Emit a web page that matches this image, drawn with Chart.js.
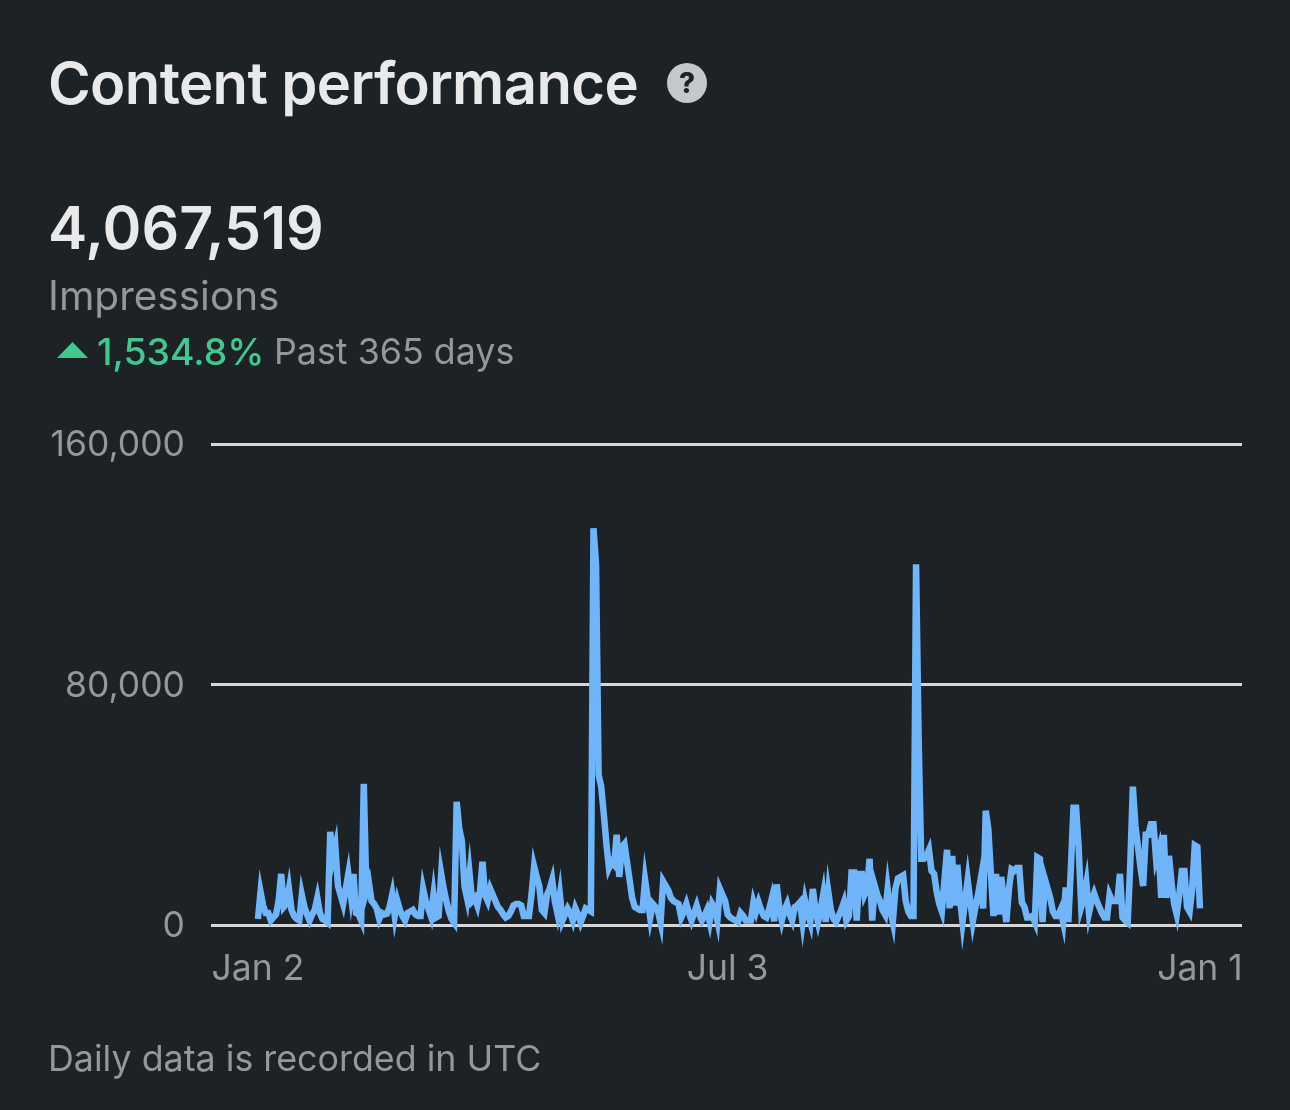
<!DOCTYPE html>
<html><head><meta charset="utf-8">
<script src="https://cdn.jsdelivr.net/npm/chart.js@4"></script>
<style>
html,body{margin:0;padding:0;background:#1d2226;width:1290px;height:1110px;overflow:hidden;font-family:Inter,sans-serif}
.t{position:absolute;white-space:nowrap;line-height:1}
canvas{position:absolute;left:0;top:0}
</style></head><body>
<canvas id="c" width="1290" height="1110"></canvas>
<div class="t" style="left:48px;top:54px;font-size:58px;font-weight:600;color:#e9e9ea;letter-spacing:-.63px">Content performance</div>
<div class="t" style="left:667px;top:63px;width:40px;height:40px;border-radius:50%;background:#c6c7c9;color:#1d2226;font-size:28px;font-weight:800;text-align:center;line-height:40px">?</div>
<div class="t" style="left:48px;top:198px;font-size:59px;font-weight:600;color:#e9e9ea">4,067,519</div>
<div class="t" style="left:48px;top:276px;font-size:40.5px;color:#94989c">Impressions</div>
<svg style="position:absolute;left:57px;top:342px" width="31" height="16"><polygon points="15.5,0 31,16 0,16" fill="#3fc98f"/></svg>
<div class="t" style="left:97px;top:333px;font-size:37.4px;font-weight:500;color:#3fc98f">1,534.8%</div>
<div class="t" style="left:274px;top:334px;font-size:35.8px;color:#94989c">Past 365 days</div>
<div class="t" style="left:48px;top:1041px;font-size:35.8px;color:#94989c">Daily data is recorded in UTC</div>
<script>
const dayIndex=Array.from({length:366},(_,i)=>i);
const impressions=[
2000,11000,6500,4000,4000,1500,2500,3500,8000,17000,
6000,7000,12000,5000,3000,2000,1500,10000,6000,3500,
1500,3500,5000,9000,4000,2000,1500,800,31000,22000,
26000,13000,10000,7000,12000,17000,10000,17000,4000,3500,
1500,47000,11000,14000,8000,7000,5500,2000,4000,3500,
3800,6000,10000,3000,8000,5000,3000,1500,4000,4500,
5000,3500,3000,3000,12000,8000,5500,3000,10000,2500,
3000,17000,12000,8000,4500,2000,800,41000,32000,28000,
13000,9000,17000,8000,9000,6500,11000,21000,10000,8000,
12000,10000,8000,6000,5000,3500,2500,3000,4500,6500,
7000,7000,6500,3000,3000,3000,10000,19500,16000,13000,
5000,4000,10000,12000,15000,8000,4000,10000,1500,3500,
5500,4000,1500,5500,3500,800,3000,5500,5000,4500,
132000,120000,50000,46000,37000,27000,19000,21000,20000,30000,
16000,26000,27000,21000,15000,9000,6000,5500,5000,5000,
15000,9000,2500,7000,6000,4500,800,14500,13000,11500,
9000,8000,7500,7000,2500,4500,7000,4000,1500,4000,
6500,3500,1500,3000,5000,1200,7000,5500,1500,12000,
10000,8000,3500,2500,2000,1500,1000,4000,3000,1500,
1500,1500,7500,4500,7500,5000,3000,2500,5000,8500,
1200,13500,6000,1500,5000,7000,3500,1500,6000,6500,
7500,1000,8000,4000,1000,12000,5000,1000,5000,10000,
1000,11000,5000,2000,1000,3000,5000,7500,1500,3000,
17500,17500,1500,17000,17000,10000,12000,22000,1500,13000,
10000,8000,5000,3500,12000,5000,1000,12000,15500,16000,
16500,8000,4500,3000,3000,120000,62000,22000,22000,23000,
25000,18000,17000,11000,7000,4500,15000,25000,5500,23000,
6500,20000,9000,1000,8000,15000,8000,1200,6000,10000,
15000,5500,38000,32000,17000,3000,17000,3500,16000,8000,
1000,12000,18500,18000,19000,19000,7500,6000,2500,2500,
3000,1000,22500,22000,1000,15000,12000,9000,4500,3000,
3000,5000,1000,12500,1000,19000,39000,39000,26000,6000,
9000,14000,4000,8000,10500,8000,6000,4000,2500,2500,
10000,8000,8000,8000,17000,2500,1500,800,20000,46000,
33000,26000,19000,13000,30000,30000,33500,33500,22000,25000,
9000,30000,9000,23000,14000,7000,3500,10000,18000,18000,
6000,4500,12000,26500,26000,5500];
const yTicks=[0,80000,160000];
const xTickDays=[0,182,365];
const xTickLabels=['Jan 2','Jul 3','Jan 1'];
const font={family:'Inter',size:35.5};
new Chart(document.getElementById('c'),{
 type:'line',
 data:{datasets:[{data:dayIndex.map((d,i)=>({x:d,y:impressions[i]})),borderColor:'#70b5f9',borderWidth:6.5,
   borderJoinStyle:'miter',borderCapStyle:'butt',pointRadius:0,tension:0,fill:false,clip:false}]},
 options:{responsive:false,animation:false,events:[],
  layout:{padding:{left:0,right:48,top:444,bottom:105}},
  plugins:{legend:{display:false},tooltip:{enabled:false},title:{display:false}},
  scales:{
   x:{type:'linear',min:-18.2,max:381.3,
    afterBuildTicks:a=>{a.ticks=xTickDays.map(v=>({value:v}))},
    afterFit:s=>{s.height=80},
    grid:{display:false},border:{display:false},
    ticks:{color:'#94989c',font,padding:15,maxRotation:0,autoSkip:false,
      callback:v=>xTickLabels[xTickDays.indexOf(v)]}},
   y:{min:0,max:160000,
    afterBuildTicks:a=>{a.ticks=yTicks.map(v=>({value:v}))},
    afterFit:s=>{s.width=211},
    grid:{color:'#d6d6d6',lineWidth:3,drawTicks:false},border:{display:false},
    ticks:{color:'#94989c',font,padding:26,labelOffset:1.5,autoSkip:false,callback:v=>v.toLocaleString('en-US')}}
  }}
});
</script>
</body></html>
